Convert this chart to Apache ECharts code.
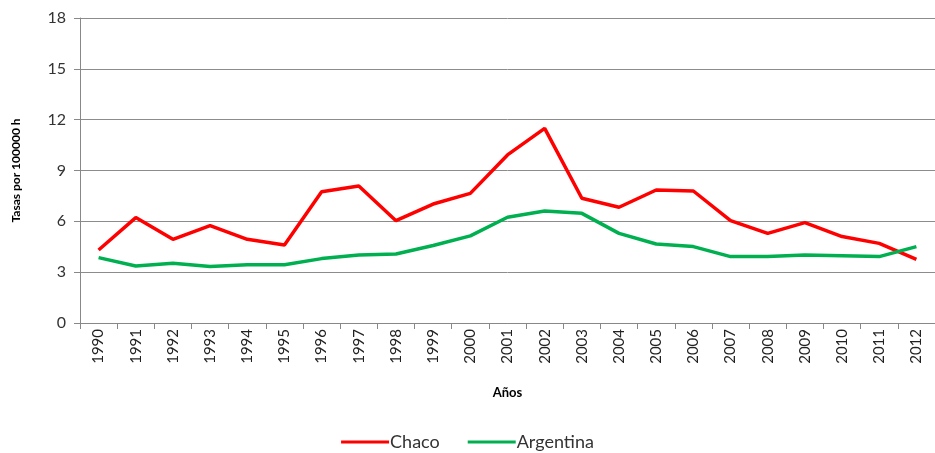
<!DOCTYPE html>
<html><head><meta charset="utf-8">
<script src="https://cdn.jsdelivr.net/npm/echarts@6/dist/echarts.min.js"></script>
<style>html,body{margin:0;padding:0;background:#fff}#c{width:935px;height:453px}</style>
</head><body><div id="c"></div>
<script>
const years = ['1990','1991','1992','1993','1994','1995','1996','1997','1998','1999','2000','2001','2002','2003','2004','2005','2006','2007','2008','2009','2010','2011','2012'];
const chaco = [4.31,6.22,4.94,5.75,4.94,4.60,7.75,8.09,6.04,7.02,7.65,9.92,11.49,7.36,6.83,7.85,7.79,6.04,5.29,5.92,5.10,4.70,3.76];
const argentina = [3.86,3.36,3.52,3.34,3.44,3.44,3.80,4.01,4.07,4.57,5.14,6.24,6.61,6.47,5.29,4.66,4.51,3.92,3.92,4.01,3.97,3.92,4.51];
const yTicks = [0,3,6,9,12,15,18];

const chart = echarts.init(document.getElementById('c'));
const font = 'Lato, "Open Sans", sans-serif';
chart.setOption({
  animation: false,
  grid: {left: 80, top: 18, width: 862, height: 305, containLabel: false},
  legend: {
    top: 433, left: 'center', itemWidth: 48, itemHeight: 3, itemGap: 28, padding: 0,
    icon: 'rect',
    textStyle: {fontFamily: font, fontSize: 18, color: '#333', padding: [0,0,0,-4]},
    data: ['Chaco','Argentina']
  },
  xAxis: {
    type: 'category', data: years, boundaryGap: true,
    name: 'Años', nameLocation: 'middle', nameGap: 63,
    nameTextStyle: {fontFamily: font, fontSize: 13, fontWeight: 'bold', color: '#000'},
    axisLine: {lineStyle: {color: '#888', width: 1}},
    axisTick: {show: true, length: 6, lineStyle: {color: '#888'}, alignWithLabel: false},
    axisLabel: {rotate: 90, fontFamily: font, fontSize: 15, color: '#222', margin: 6}
  },
  yAxis: {
    type: 'value', min: yTicks[0], max: yTicks[yTicks.length-1], interval: 3,
    name: 'Tasas por 100000 h', nameLocation: 'middle', nameGap: 58,
    nameTextStyle: {fontFamily: font, fontSize: 12, fontWeight: 'bold', color: '#000'},
    axisLine: {show: true, lineStyle: {color: '#888', width: 1}},
    axisTick: {show: true, length: 6, lineStyle: {color: '#888'}},
    axisLabel: {fontFamily: font, fontSize: 16, color: '#333', margin: 14},
    splitLine: {lineStyle: {color: '#8c8c8c', width: 1}}
  },
  series: [
    {name: 'Chaco', type: 'line', data: chaco, symbol: 'none',
     lineStyle: {color: '#ff0000', width: 3.5}, itemStyle: {color: '#ff0000'}},
    {name: 'Argentina', type: 'line', data: argentina, symbol: 'none',
     lineStyle: {color: '#00b050', width: 3.5}, itemStyle: {color: '#00b050'}}
  ]
});
</script></body></html>
